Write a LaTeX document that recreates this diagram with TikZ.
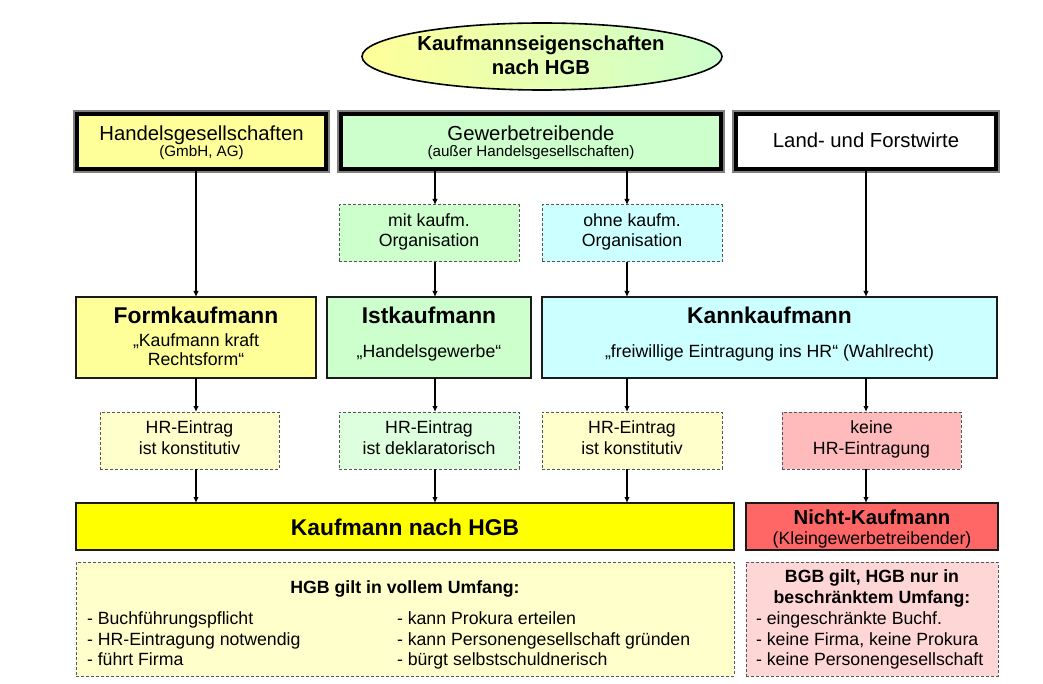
\documentclass[tikz,border=0pt]{standalone}
\usepackage{fontspec}
\setmainfont{Liberation Sans}
\usetikzlibrary{arrows.meta,shapes.geometric,calc}
\definecolor{cYel}{HTML}{FFFF99}
\definecolor{cGrn}{HTML}{CCFFCC}
\definecolor{cCyn}{HTML}{CCFFFF}
\definecolor{cPaleY}{HTML}{FFFFCC}
\definecolor{cPaleG}{HTML}{DDFFDD}
\definecolor{cPink}{HTML}{FFBBBB}
\definecolor{cPaleP}{HTML}{FFD6D6}
\definecolor{cRed}{HTML}{FF6666}
\definecolor{cBright}{HTML}{FFFF00}
\definecolor{cDash}{HTML}{555555}
\definecolor{cLine}{HTML}{1A1A1A}
\newcommand\szBig{\fontsize{20.3}{24}\selectfont}
\newcommand\szHead{\bfseries\fontsize{22.8}{26}\selectfont}
\newcommand\szNorm{\fontsize{17.7}{20.5}\selectfont}
\newcommand\szSmall{\fontsize{15.2}{18}\selectfont}
\begin{document}
\begin{tikzpicture}[x=1pt,y=-1pt,
  boxbase/.style={rectangle,inner sep=0pt,outer sep=0pt},
  topbox/.style={boxbase,draw=black,line width=4pt},
  solidbox/.style={boxbase,draw=cLine,line width=2pt},
  strongbox/.style={boxbase,draw=cLine,line width=2.8pt},
  dashbox/.style={boxbase,draw=cDash,line width=1pt,dash pattern=on 3pt off 2pt},
  txt/.style={inner sep=0pt,outer sep=0pt,anchor=base,text=black},
  ltxt/.style={inner sep=0pt,outer sep=0pt,anchor=base west,text=black},
  arr/.style={draw=black,line width=1.3pt,-{Latex[length=6pt,width=5.5pt]}}
]
\useasboundingbox (0,0) rectangle (1043,684);

% title ellipse
\node[ellipse,draw=black,line width=1.6pt,left color=cYel,right color=cGrn,
      minimum width=360pt,minimum height=67pt,inner sep=0pt] (title) at (542,56.5) {};
\node[txt,font=\bfseries\szBig] (title1) at (541,51) {Kaufmannseigenschaften};
\node[txt,font=\bfseries\szBig] (title2) at (541,75) {nach HGB};

% top boxes
\node[topbox,fill=cYel,minimum width=249pt,minimum height=55pt] (hg) at (201.5,141.5) {};
\node[topbox,fill=cGrn,minimum width=380pt,minimum height=55pt] (gw) at (531,141.5) {};
\node[topbox,fill=white,minimum width=260pt,minimum height=55pt] (land) at (866,141.5) {};
\foreach \b in {hg,gw,land}{
  \draw[gray,line width=2pt] ([shift={(-3pt,-3pt)}]\b.south west) rectangle ([shift={(3pt,3pt)}]\b.north east);
}
\node[txt,font=\szBig] (hg1) at (201.5,141) {Handelsgesellschaften};
\node[txt,font=\szSmall] (hg2) at (201.5,157) {(GmbH, AG)};
\node[txt,font=\szBig] (gw1) at (531,141) {Gewerbetreibende};
\node[txt,font=\szSmall] (gw2) at (531,157) {(außer Handelsgesellschaften)};
\node[txt,font=\szBig] (land1) at (866,147.3) {Land- und Forstwirte};

% organisation boxes
\node[dashbox,fill=cGrn,minimum width=180pt,minimum height=57pt] (mit) at (429,233.5) {};
\node[dashbox,fill=cCyn,minimum width=180pt,minimum height=57pt] (ohne) at (632,233.5) {};
\node[txt,font=\szNorm] (mit1) at (429,226.7) {mit kaufm.};
\node[txt,font=\szNorm] (mit2) at (429,246.7) {Organisation};
\node[txt,font=\szNorm] (ohne1) at (632,226.7) {ohne kaufm.};
\node[txt,font=\szNorm] (ohne2) at (632,246.7) {Organisation};

% kaufmann types
\node[solidbox,fill=cYel,minimum width=240pt,minimum height=81pt] (form) at (196,337.5) {};
\node[solidbox,fill=cGrn,minimum width=204pt,minimum height=81pt] (ist) at (429,337.5) {};
\node[solidbox,fill=cCyn,minimum width=455pt,minimum height=81pt] (kann) at (769.5,337.5) {};
\node[txt,font=\szHead] (form1) at (196,323.3) {Formkaufmann};
\node[txt,font=\szNorm] (form2) at (196,346) {„Kaufmann kraft};
\node[txt,font=\szNorm] (form3) at (196,365.7) {Rechtsform“};
\node[txt,font=\szHead] (ist1) at (429,323.3) {Istkaufmann};
\node[txt,font=\szNorm] (ist2) at (429,357.3) {„Handelsgewerbe“};
\node[txt,font=\szHead] (kann1) at (769.5,323.3) {Kannkaufmann};
\node[txt,font=\szNorm] (kann2) at (769.5,357.3) {„freiwillige Eintragung ins HR“ (Wahlrecht)};

% HR boxes
\node[dashbox,fill=cPaleY,minimum width=179pt,minimum height=57pt] (hrf) at (189.5,440.5) {};
\node[dashbox,fill=cPaleG,minimum width=180pt,minimum height=57pt] (hri) at (429,440.5) {};
\node[dashbox,fill=cPaleY,minimum width=180pt,minimum height=57pt] (hrk) at (632,440.5) {};
\node[dashbox,fill=cPink,minimum width=179pt,minimum height=57pt] (keine) at (871.5,440.5) {};
\node[txt,font=\szNorm] (hrf1) at (189.5,433.3) {HR-Eintrag};
\node[txt,font=\szNorm] (hrf2) at (189.5,454) {ist konstitutiv};
\node[txt,font=\szNorm] (hri1) at (429,433.3) {HR-Eintrag};
\node[txt,font=\szNorm] (hri2) at (429,454) {ist deklaratorisch};
\node[txt,font=\szNorm] (hrk1) at (632,433.3) {HR-Eintrag};
\node[txt,font=\szNorm] (hrk2) at (632,454) {ist konstitutiv};
\node[txt,font=\szNorm] (keine1) at (871.5,433.3) {keine};
\node[txt,font=\szNorm] (keine2) at (871.5,454) {HR-Eintragung};

% result boxes
\node[strongbox,fill=cBright,minimum width=658pt,minimum height=47pt] (kfm) at (405,526.5) {};
\node[strongbox,fill=cRed,minimum width=252pt,minimum height=47pt] (nk) at (872,526.5) {};
\node[txt,font=\szHead] (kfm1) at (405,535) {Kaufmann nach HGB};
\node[txt,font=\bfseries\szBig] (nk1) at (872,524.3) {Nicht-Kaufmann};
\node[txt,font=\szNorm] (nk2) at (872,544.3) {(Kleingewerbetreibender)};

% consequence boxes
\node[dashbox,fill=cPaleY,minimum width=658pt,minimum height=114pt] (hgb) at (405,619) {};
\node[dashbox,fill=cPaleP,minimum width=252pt,minimum height=114pt] (bgb) at (872,619) {};
\node[txt,font=\bfseries\szNorm] (hgb0) at (405,593.3) {HGB gilt in vollem Umfang:};
\node[ltxt,font=\szNorm] (hgbl1) at (87,624) {- Buchführungspflicht};
\node[ltxt,font=\szNorm] (hgbl2) at (87,645) {- HR-Eintragung notwendig};
\node[ltxt,font=\szNorm] (hgbl3) at (87,665) {- führt Firma};
\node[ltxt,font=\szNorm] (hgbr1) at (397,624) {- kann Prokura erteilen};
\node[ltxt,font=\szNorm] (hgbr2) at (397,645) {- kann Personengesellschaft gründen};
\node[ltxt,font=\szNorm] (hgbr3) at (397,665) {- bürgt selbstschuldnerisch};
\node[txt,font=\bfseries\szNorm] (bgb0) at (872,582.7) {BGB gilt, HGB nur in};
\node[txt,font=\bfseries\szNorm] (bgb1) at (872,603.3) {beschränktem Umfang:};
\node[ltxt,font=\szNorm] (bgbl1) at (756,624) {- eingeschränkte Buchf.};
\node[ltxt,font=\szNorm] (bgbl2) at (756,645) {- keine Firma, keine Prokura};
\node[ltxt,font=\szNorm] (bgbl3) at (756,665) {- keine Personengesellschaft};

% columns for connectors
\coordinate (c1) at (196,0);
\coordinate (c2) at (435,0);
\coordinate (c3) at (627,0);
\coordinate (c4) at (866,0);

\draw[arr] (hg.south -| c1) -- (form.north -| c1);
\draw[arr] (gw.south -| c2) -- (mit.north -| c2);
\draw[arr] (gw.south -| c3) -- (ohne.north -| c3);
\draw[arr] (land.south -| c4) -- (kann.north -| c4);
\draw[arr] (mit.south -| c2) -- (ist.north -| c2);
\draw[arr] (ohne.south -| c3) -- (kann.north -| c3);
\draw[arr] (form.south -| c1) -- (hrf.north -| c1);
\draw[arr] (ist.south -| c2) -- (hri.north -| c2);
\draw[arr] (kann.south -| c3) -- (hrk.north -| c3);
\draw[arr] (kann.south -| c4) -- (keine.north -| c4);
\draw[arr] (hrf.south -| c1) -- (kfm.north -| c1);
\draw[arr] (hri.south -| c2) -- (kfm.north -| c2);
\draw[arr] (hrk.south -| c3) -- (kfm.north -| c3);
\draw[arr] (keine.south -| c4) -- (nk.north -| c4);
\end{tikzpicture}
\end{document}
